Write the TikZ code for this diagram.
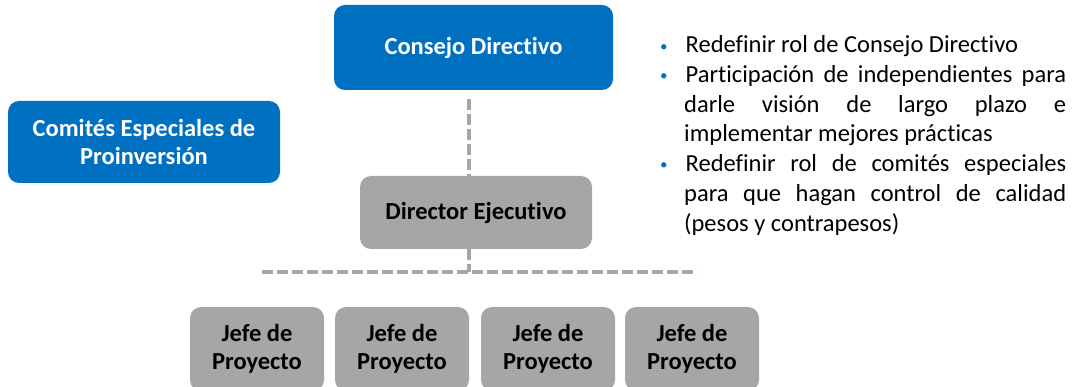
\documentclass[tikz,border=0pt]{standalone}
\usepackage{fontspec}
\setmainfont{Carlito}[Ligatures=NoCommon]
\usepackage{enumitem}
\definecolor{boxblue}{HTML}{0070C0}
\definecolor{boxgray}{HTML}{A6A6A6}
\definecolor{linegray}{HTML}{A6A6A6}
\begin{document}
\begin{tikzpicture}[x=1pt,y=-1pt,
  base/.style={rounded corners=11pt, inner sep=0pt, align=center, font=\fontsize{24.5}{28.5}\selectfont\bfseries},
  bluebox/.style={base, fill=boxblue, text=white},
  graybox/.style={base, fill=boxgray, text=black},
  conn/.style={draw=linegray, line width=3.2pt, dash pattern=on 11pt off 4pt}]
\useasboundingbox (0,0) rectangle (1074,387);
\clip (0,0) rectangle (1074,387);
\node[bluebox, minimum width=279pt, minimum height=85pt] (cd) at (473.5,47.5) {Consejo Directivo};
\node[bluebox, minimum width=272pt, minimum height=82pt] (ce) at (144,142) {Comités Especiales de\\Proinversión};
\node[graybox, minimum width=232pt, minimum height=73pt] (de) at (476,212.5) {Director Ejecutivo};
\node[graybox, minimum width=134pt, minimum height=84pt] (j1) at (257,349) {Jefe de\\Proyecto};
\node[graybox, minimum width=134pt, minimum height=84pt] (j2) at (402,349) {Jefe de\\Proyecto};
\node[graybox, minimum width=134pt, minimum height=84pt] (j3) at (548,349) {Jefe de\\Proyecto};
\node[graybox, minimum width=134pt, minimum height=84pt] (j4) at (692,349) {Jefe de\\Proyecto};
\coordinate (hub) at (469,272);
\coordinate (hl) at (262,272);
\coordinate (hr) at (697,272);
\draw[conn] ([yshift=-9pt]cd.south -| hub) -- (de.north -| hub);
\draw[conn] (de.south -| hub) -- (hub);
\draw[conn] (hl) -- (hr);
\node[anchor=north west, inner sep=0pt, text width=406pt, align=justify, font=\fontsize{24.5}{29.7}\selectfont] (txt) at (660,23) {%
\hyphenpenalty=10000\exhyphenpenalty=10000
\begin{itemize}[leftmargin=24pt, labelwidth=6pt, labelsep=18pt, align=left, itemsep=0pt, topsep=0pt, parsep=0pt, partopsep=0pt, label={\color{boxblue}\raisebox{0.15ex}{\fontsize{15}{15}\selectfont\textbullet}}]
\item Redefinir rol de Consejo Directivo
\item Participación de independientes para\linebreak darle visión de largo plazo e\linebreak implementar mejores prácticas
\item Redefinir rol de comités especiales\linebreak para que hagan control de calidad\linebreak (pesos y contrapesos)
\end{itemize}};
\end{tikzpicture}
\end{document}
